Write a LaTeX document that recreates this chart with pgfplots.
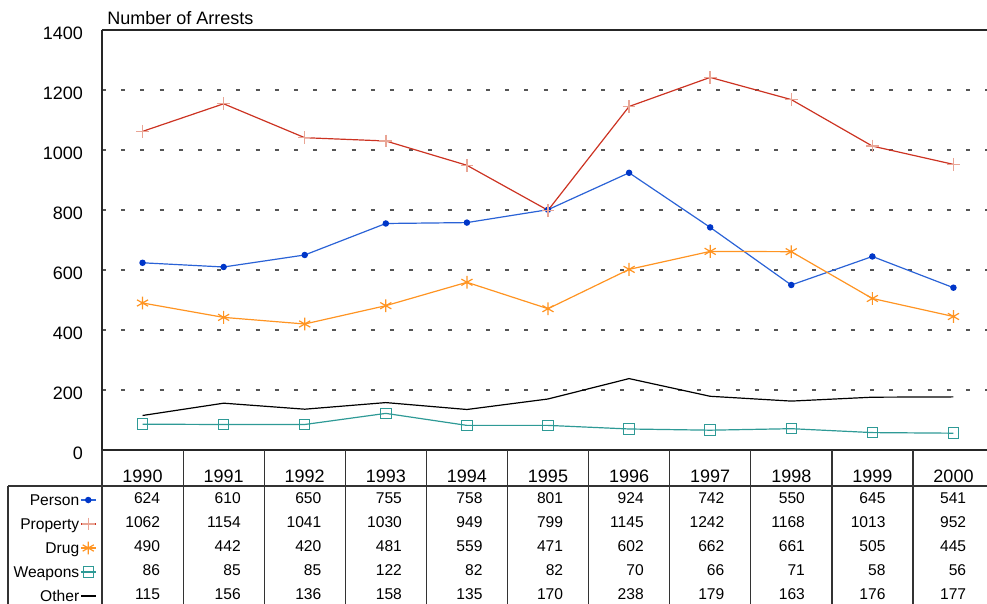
\documentclass[border=0pt]{standalone}
\usepackage{fontspec}
\setmainfont{Liberation Sans}
\usepackage{pgfplots}
\usepackage{pgfplotstable}
\pgfplotsset{compat=1.18}

\definecolor{personline}{HTML}{2A62D6}
\definecolor{personmark}{HTML}{0036C8}
\definecolor{propline}{HTML}{CC3322}
\definecolor{propmark}{HTML}{E9A595}
\definecolor{drugc}{HTML}{FF9422}
\definecolor{weapc}{HTML}{2E9A96}
\definecolor{gridc}{HTML}{555555}

\pgfplotstableread{
i person property drug weapons other
0 624 1062 490 86 115
1 610 1154 442 85 156
2 650 1041 420 85 136
3 755 1030 481 122 158
4 758 949 559 82 135
5 801 799 471 82 170
6 924 1145 602 70 238
7 742 1242 662 66 179
8 550 1168 661 71 163
9 645 1013 505 58 176
10 541 952 445 56 177
}\arrests

\begin{document}
\begin{tikzpicture}[x=0.5pt,y=0.5pt]
\useasboundingbox (0,0) rectangle (987,604);
\begin{axis}[
    at={(51pt,77pt)}, anchor=south west,
    scale only axis, width=446pt, height=210pt,
    xmin=-0.5, xmax=10.5, ymin=0, ymax=1400,
    axis x line*=box, axis y line*=left,
    axis line style={line width=0.7pt, black!85},
    xtick=\empty,
    ytick={0,200,...,1400},
    major tick length=0pt,
    ymajorgrids,
    grid style={dash pattern=on 2pt off 7.6pt, gridc, line width=0.6pt},
    /pgf/number format/assume math mode=true,
    /pgf/number format/1000 sep={},
    yticklabel style={font=\fontsize{9}{10}\selectfont, xshift=-6pt, yshift=-1.5pt},
    legend cell align=right,
    legend plot pos=right,
    legend style={at={(axis description cs:-0.006,-0.1024)}, anchor=north east,
      draw=none, fill=none, inner sep=0pt, row sep=5.4pt,
      font=\fontsize{7.8}{8}\selectfont,
      nodes={inner sep=0.5pt, text height=5.6pt, text depth=0pt}},
    legend image code/.code={\draw[mark repeat=2, mark phase=2] plot coordinates {(0cm,0cm) (0.13cm,0cm) (0.26cm,0cm)};},
    clip=false,
  ]
  \addplot[personline, line width=0.6pt, mark=*, mark size=1.3pt,
    mark options={fill=personmark, draw=personmark}] table[x=i, y=person] {\arrests};
  \addlegendentry{Person}
  \addplot[propline, line width=0.6pt, mark=+, mark size=3.2pt,
    mark options={draw=propmark, line width=0.7pt}] table[x=i, y=property] {\arrests};
  \addlegendentry{Property}
  \addplot[drugc, line width=0.6pt, mark=asterisk, mark size=3.2pt,
    mark options={draw=drugc, line width=0.6pt}] table[x=i, y=drug] {\arrests};
  \addlegendentry{Drug}
  \addplot[weapc, line width=0.6pt, mark=square, mark size=2.6pt,
    mark options={draw=weapc, line width=0.5pt}] table[x=i, y=weapons] {\arrests};
  \addlegendentry{Weapons}
  \addplot[black, line width=0.6pt] table[x=i, y=other] {\arrests};
  \addlegendentry{Other}
\end{axis}

% title
\node[anchor=base west, inner sep=0pt, font=\fontsize{9}{10}\selectfont] at (107,579) {Number of Arrests};

% data table grid
\foreach \k in {0,...,10} {
  \draw[line width=0.6pt, black!80] ({102+\k*81.1},154) -- ({102+\k*81.1},0);
}
\draw[line width=0.6pt, black!80] (8,118) -- (987,118);
\draw[line width=0.6pt, black!80] (8,118) -- (8,0);

% years
\foreach \k in {0,...,10} {
  \pgfmathtruncatemacro{\yr}{1990+\k}
  \node[anchor=base, inner sep=0pt, font=\fontsize{9}{10}\selectfont] at ({142.5+\k*81.1},121) {\yr};
}

% values
\foreach \col/\yy in {person/100, property/76, drug/52, weapons/28, other/4} {
  \foreach \k in {0,...,10} {
    \pgfplotstablegetelem{\k}{\col}\of\arrests
    \node[anchor=base east, inner sep=0pt, font=\fontsize{7.8}{8}\selectfont] at ({160.5+\k*80.6},\yy) {\pgfplotsretval};
  }
}
\end{tikzpicture}
\end{document}
